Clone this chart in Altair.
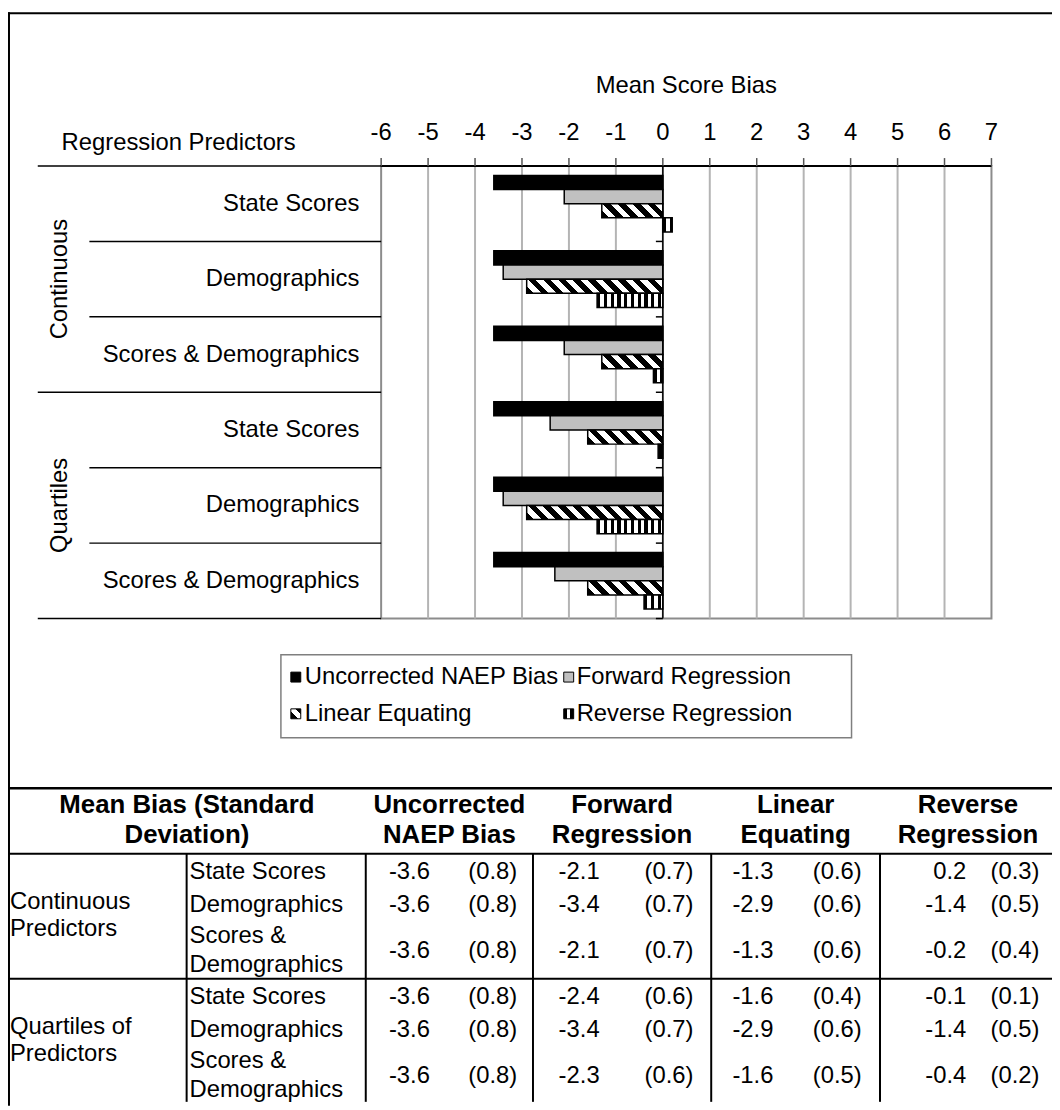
import altair as alt
import pandas as pd

# ---------------- data ----------------
groups = ["Continuous", "Continuous", "Continuous", "Quartiles", "Quartiles", "Quartiles"]
predictors = ["State Scores", "Demographics", "Scores & Demographics",
              "State Scores", "Demographics", "Scores & Demographics"]
series = ["Uncorrected NAEP Bias", "Forward Regression", "Linear Equating", "Reverse Regression"]
uncorrected = [-3.6, -3.6, -3.6, -3.6, -3.6, -3.6]
forward = [-2.1, -3.4, -2.1, -2.4, -3.4, -2.3]
linear = [-1.3, -2.9, -1.3, -1.6, -2.9, -1.6]
reverse = [0.2, -1.4, -0.2, -0.1, -1.4, -0.4]
sd_uncorrected = [0.8, 0.8, 0.8, 0.8, 0.8, 0.8]
sd_forward = [0.7, 0.7, 0.7, 0.6, 0.7, 0.6]
sd_linear = [0.6, 0.6, 0.6, 0.4, 0.6, 0.5]
sd_reverse = [0.3, 0.5, 0.4, 0.1, 0.5, 0.2]
x_ticks = list(range(-6, 8))
x_title = "Mean Score Bias"
y_title = "Regression Predictors"
table_title = ["Mean Bias (Standard", "Deviation)"]
table_cols = [["Uncorrected", "NAEP Bias"], ["Forward", "Regression"],
              ["Linear", "Equating"], ["Reverse", "Regression"]]
table_groups = [["Continuous", "Predictors"], ["Quartiles of", "Predictors"]]
table_rows = [["State Scores"], ["Demographics"], ["Scores &", "Demographics"]]

# ---------------- layout (page pixels) ----------------
FONT = "Liberation Sans"
PX0, PY0 = 384, 163          # plot origin on the page
W, H = 615, 456              # plot size
SVG_W, SVG_H = 1052, 1102


def rx(x):
    return x - PX0


def ry(y):
    return y - PY0


UNIT = W / 13.0
BAR_H = H / 6.0 / (4 + 2 * 0.667)
xs = alt.Scale(domain=[-6, 7], nice=False, zero=False)
cats = [f"{g}|{p}" for g, p in zip(groups, predictors)]
ys = alt.Scale(paddingInner=0, paddingOuter=0)


def stripes(n):
    stops = []
    k = 0
    while k < n:
        a = k / n
        b = min((k + 0.5) / n, 1.0)
        c = min((k + 1) / n, 1.0)
        stops.append({"offset": round(a, 4), "color": "black"})
        stops.append({"offset": round(b, 4), "color": "black"})
        if b < 1:
            stops.append({"offset": round(b, 4), "color": "white"})
            stops.append({"offset": round(c, 4), "color": "white"})
        k += 1
    return stops


def vert(w, period=6.8):
    n = max(w / period, 0.6)
    return {"gradient": "linear", "x1": 0, "y1": 0, "x2": 1, "y2": 0, "stops": stripes(n)}


def diag(w, h, period=15.0):
    r = h / w
    k = (1 + r) / (1 + r * r)
    n = (w + h) / period
    return {"gradient": "linear", "x1": 0, "y1": 1, "x2": round(k, 4),
            "y2": round(1 - r * k, 4), "stops": stripes(n)}


def qx(field):
    return alt.X(field, scale=xs, axis=None)


def by(band_pos):
    return alt.Y("cat:N", sort=cats, scale=ys, bandPosition=band_pos, axis=None)


# ---------------- value axis (drawn from the tick list) ----------------
tick_df = pd.DataFrame({"t": x_ticks, "lbl": [str(t) for t in x_ticks]})
grid = alt.Chart(tick_df).transform_filter("datum.t > -6 && datum.t < 7").mark_rule(
    color="#b4b4b4", strokeWidth=2).encode(x=qx("t:Q"), y=alt.value(0), y2=alt.value(H))
tick_marks = alt.Chart(tick_df).mark_rule(color="#555555", strokeWidth=1.5).encode(
    x=qx("t:Q"), y=alt.value(-8), y2=alt.value(0))
tick_lbls = alt.Chart(tick_df).mark_text(
    align="center", baseline="middle", fontSize=24, font=FONT, color="black").encode(
    x=qx("t:Q"), y=alt.value(-33), text="lbl:N")
dom_df = pd.DataFrame({"a": [x_ticks[0]], "b": [x_ticks[-1]]})
top_domain = alt.Chart(dom_df).mark_rule(color="black", strokeWidth=2).encode(
    x=qx("a:Q"), x2="b:Q", y=alt.value(0))

# ---------------- bars ----------------
vals = [uncorrected, forward, linear, reverse]
bars = pd.DataFrame([{"cat": cats[i], "row": i, "series": s, "value": vals[j][i]}
                     for i in range(6) for j, s in enumerate(series)])

conds = [{"test": "datum.series === 'Forward Regression'", "value": "#c0c0c0"}]
for i in range(6):
    conds.append({"test": f"datum.series === 'Linear Equating' && datum.row === {i}",
                  "value": diag(abs(linear[i]) * UNIT, BAR_H)})
    conds.append({"test": f"datum.series === 'Reverse Regression' && datum.row === {i}",
                  "value": vert(abs(reverse[i]) * UNIT)})

bar_layer = alt.Chart(bars).mark_bar(stroke="black", strokeWidth=1.5).encode(
    x=qx("value:Q"),
    y=by(0.5),
    yOffset=alt.YOffset("series:N", sort=series,
                        scale=alt.Scale(paddingInner=0, paddingOuter=0.667)),
    fill=alt.value("black", condition=conds),
)

rows_df = pd.DataFrame({"cat": cats, "row": list(range(6)), "group": groups,
                        "pred": predictors})

# category axis at zero with ticks at the band boundaries
zero_line = alt.Chart(pd.DataFrame({"z": [0]})).mark_rule(color="black", strokeWidth=1.5).encode(
    x=qx("z:Q"), y=alt.value(0), y2=alt.value(H))
zero_ticks = alt.Chart(rows_df).transform_calculate(z="0").mark_rule(
    color="black", strokeWidth=1.5, x2Offset=-7).encode(x=qx("z:Q"), x2="z:Q", y=by(0))
zero_tick_end = alt.Chart(rows_df).transform_filter("datum.row === 5").transform_calculate(
    z="0").mark_rule(color="black", strokeWidth=1.5, x2Offset=-7).encode(
    x=qx("z:Q"), x2="z:Q", y=by(1))

cat_lbls = alt.Chart(rows_df).mark_text(
    align="right", baseline="middle", fontSize=24, font=FONT, color="black").encode(
    x=alt.value(-22), y=by(0.5), text="pred:N")

# category separators
band_sep = alt.Chart(rows_df).transform_filter("datum.row % 3 !== 0").mark_rule(
    color="black", strokeWidth=1.5).encode(x=alt.value(rx(90)), x2=alt.value(0), y=by(0))
group_sep = alt.Chart(rows_df).transform_filter("datum.row % 3 === 0").mark_rule(
    color="black", strokeWidth=1.5).encode(x=alt.value(rx(38)), x2=alt.value(0), y=by(0))
group_end = alt.Chart(rows_df).transform_filter("datum.row === 5").mark_rule(
    color="black", strokeWidth=1.5).encode(x=alt.value(rx(38)), x2=alt.value(0), y=by(1))
group_lbl = alt.Chart(rows_df).transform_filter("datum.row % 3 === 1").mark_text(
    angle=270, align="center", baseline="middle", fontSize=24, font=FONT, color="black").encode(
    x=alt.value(rx(60)), y=by(0.5), text="group:N")

x_title_layer = alt.Chart(pd.DataFrame({"t": [x_title], "c": [0.5]})).mark_text(
    align="center", baseline="middle", fontSize=24, font=FONT, color="black").encode(
    x=qx("c:Q"), y=alt.value(ry(82)), text="t:N")
y_title_layer = alt.Chart(pd.DataFrame({"t": [y_title]})).mark_text(
    align="left", baseline="middle", fontSize=24, font=FONT, color="black").encode(
    x=alt.value(rx(62)), y=alt.value(ry(140)), text="t:N")

# ---------------- legend ----------------
LEG_BOX = (283, 655.5, 858, 739)
LEG_SYM_X = [293, 568]
LEG_TXT_X = [307, 581]
LEG_ROW_Y = [678, 715]
SYM = 10
leg_rows = []
for k, s in enumerate(series):
    col, line = k % 2, k // 2
    leg_rows.append({"series": s,
                     "sx": rx(LEG_SYM_X[col]), "sx2": rx(LEG_SYM_X[col] + SYM),
                     "sy": ry(LEG_ROW_Y[line] - SYM / 2), "sy2": ry(LEG_ROW_Y[line] + SYM / 2),
                     "tx": rx(LEG_TXT_X[col]), "ty": ry(LEG_ROW_Y[line])})
leg_df = pd.DataFrame(leg_rows)
leg_box = alt.Chart(pd.DataFrame({"a": [0]})).mark_rect(
    fill="white", stroke="#7f7f7f", strokeWidth=1.5).encode(
    x=alt.value(rx(LEG_BOX[0])), x2=alt.value(rx(LEG_BOX[2])),
    y=alt.value(ry(LEG_BOX[1])), y2=alt.value(ry(LEG_BOX[3])))
leg_conds = [
    {"test": f"datum.series === '{series[1]}'", "value": "#c0c0c0"},
    {"test": f"datum.series === '{series[2]}'", "value": diag(SYM, SYM, 15.0)},
    {"test": f"datum.series === '{series[3]}'", "value": vert(SYM, 6.8)},
]
leg_sym = alt.Chart(leg_df).mark_rect(stroke="black", strokeWidth=1).encode(
    x=alt.X("sx:Q", scale=None, axis=None), x2="sx2:Q",
    y=alt.Y("sy:Q", scale=None, axis=None), y2="sy2:Q",
    fill=alt.value("black", condition=leg_conds))
leg_txt = alt.Chart(leg_df).mark_text(
    align="left", baseline="middle", fontSize=24, font=FONT, color="black").encode(
    x=alt.X("tx:Q", scale=None, axis=None), y=alt.Y("ty:Q", scale=None, axis=None),
    text="series:N")

# ---------------- table ----------------
TBL_TOP = 790
HDR_Y = [807, 837]
HDR_BOTTOM = 856
GROUP_H = 126
ROW_Y = [[18], [52], [83, 112]]       # label line centres inside a group
NUM_Y = [18, 52, 98]                  # number centres inside a group
GRP_Y = [49, 76]
COL_X = [8, 188, 368.5, 537, 716.6, 886.7, 1064]
NUM_DX = [44, 46.5, 42, 87]
SD_DX = [128, 137, 127, 136]
BOTTOM = 8 + SVG_H

hdr_rows = []
for j, t in enumerate(table_title):
    hdr_rows.append({"t": t, "x": rx((COL_X[0] + COL_X[2]) / 2), "y": ry(HDR_Y[j])})
for c, lines in enumerate(table_cols):
    for j, t in enumerate(lines):
        hdr_rows.append({"t": t, "x": rx((COL_X[c + 2] + COL_X[c + 3]) / 2), "y": ry(HDR_Y[j])})
hdr_df = pd.DataFrame(hdr_rows)

lbl_rows = []
num_rows = []
rnum_rows = []
sds = [sd_uncorrected, sd_forward, sd_linear, sd_reverse]
for g in range(2):
    gtop = HDR_BOTTOM + g * GROUP_H
    for j, t in enumerate(table_groups[g]):
        lbl_rows.append({"t": t, "x": rx(COL_X[0] + 2), "y": ry(gtop + GRP_Y[j])})
    for r in range(3):
        for j, t in enumerate(table_rows[r]):
            lbl_rows.append({"t": t, "x": rx(COL_X[1] + 3), "y": ry(gtop + ROW_Y[r][j])})
        i = g * 3 + r
        for c in range(4):
            left = COL_X[c + 2]
            y = ry(gtop + NUM_Y[r])
            num = {"t": f"{vals[c][i]:.1f}", "x": rx(left + NUM_DX[c]), "y": y}
            if c == 3:
                rnum_rows.append(num)
            else:
                num_rows.append(num)
            num_rows.append({"t": f"({sds[c][i]:.1f})", "x": rx(left + SD_DX[c]), "y": y})
lbl_df = pd.DataFrame(lbl_rows)
num_df = pd.DataFrame(num_rows)
rnum_df = pd.DataFrame(rnum_rows)


def text_layer(df, align, bold=False, size=24):
    return alt.Chart(df).mark_text(
        align=align, baseline="middle", fontSize=size, font=FONT, color="black",
        fontWeight="bold" if bold else "normal").encode(
        x=alt.X("x:Q", scale=None, axis=None), y=alt.Y("y:Q", scale=None, axis=None),
        text="t:N")


seg = [
    (COL_X[0], TBL_TOP, SVG_W + 8, TBL_TOP, 2.5),
    (COL_X[0], HDR_BOTTOM, SVG_W + 8, HDR_BOTTOM, 2),
    (COL_X[0], HDR_BOTTOM + GROUP_H, SVG_W + 8, HDR_BOTTOM + GROUP_H, 2),
]
for xv in COL_X[1:6]:
    seg.append((xv, HDR_BOTTOM, xv, BOTTOM - 4, 2))
seg.append((9, 8, 9, BOTTOM, 2))          # outer frame left
seg.append((8, 9, SVG_W + 8, 9, 2))       # outer frame top
seg_df = pd.DataFrame([{"x": rx(a), "y": ry(b), "x2": rx(c), "y2": ry(d), "w": w}
                       for a, b, c, d, w in seg])
seg_layer = alt.Chart(seg_df).mark_rule(color="black").encode(
    x=alt.X("x:Q", scale=None, axis=None), x2="x2:Q",
    y=alt.Y("y:Q", scale=None, axis=None), y2="y2:Q",
    strokeWidth=alt.StrokeWidth("w:Q", scale=None, legend=None))

chart = alt.layer(
    grid, bar_layer, top_domain, tick_marks, tick_lbls,
    zero_line, zero_ticks, zero_tick_end, cat_lbls,
    band_sep, group_sep, group_end, group_lbl, x_title_layer, y_title_layer,
    leg_box, leg_sym, leg_txt,
    seg_layer,
    text_layer(hdr_df, "center", bold=True, size=26),
    text_layer(lbl_df, "left"),
    text_layer(num_df, "center"),
    text_layer(rnum_df, "right"),
).properties(
    width=W, height=H,
    autosize=alt.AutoSizeParams(type="none"),
    padding={"left": PX0 - 8, "top": PY0 - 8,
             "right": SVG_W - (PX0 - 8) - W, "bottom": SVG_H - (PY0 - 8) - H},
).configure(font=FONT).configure_view(stroke="#8c8c8c", strokeWidth=2, fill="white")

chart.save("out.html", embed_options={"renderer": "svg", "actions": False})
